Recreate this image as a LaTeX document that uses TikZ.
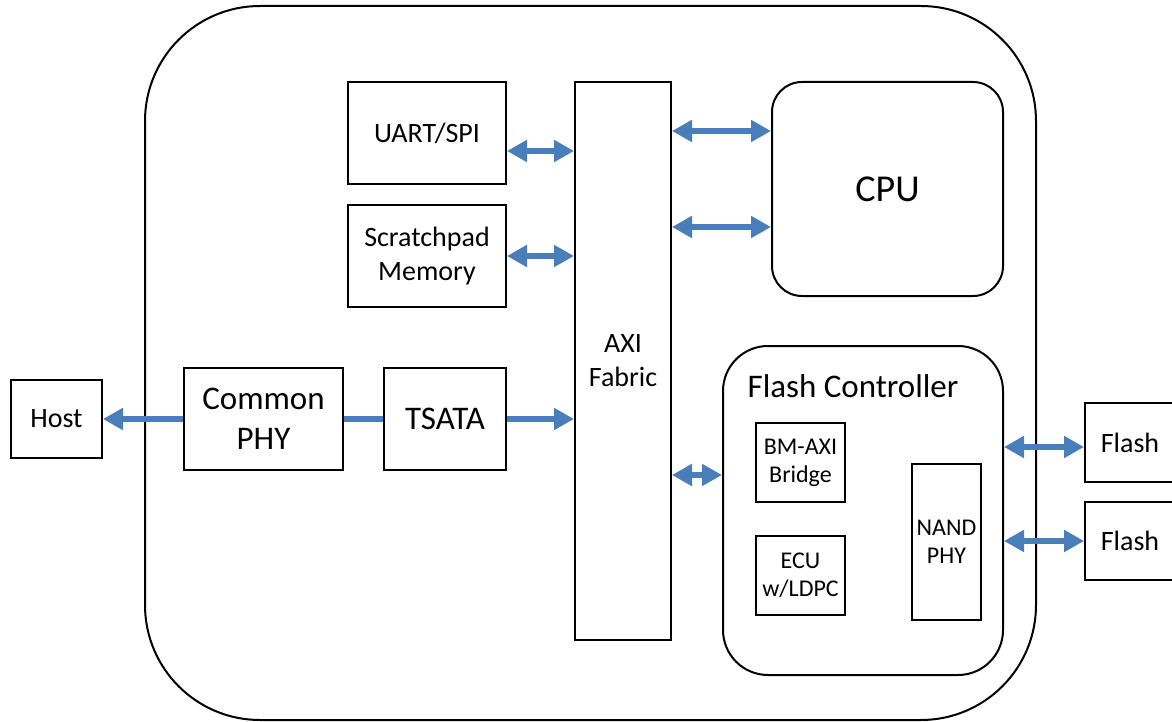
\documentclass[tikz,border=0pt]{standalone}
\usepackage{fontspec}
\setmainfont{Carlito}
\usetikzlibrary{arrows.meta}

\definecolor{busblue}{RGB}{74,126,187}

\begin{document}
\begin{tikzpicture}[x=1pt, y=-1pt, line width=2pt,
  blk/.style={draw, inner sep=0pt, align=center},
  bus/.style={draw=busblue, line width=6.5pt, >={Triangle[length=20pt,width=21pt]}, <->},
  txt/.style={font=\fontsize{28}{34}\selectfont},
  bigtxt/.style={font=\fontsize{33}{40}\selectfont},
  smalltxt/.style={font=\fontsize{24}{28}\selectfont}]

\useasboundingbox (0,0) rectangle (1172,722);

%\draw[red] (0,0) rectangle (1172,722);

% the chip
\draw[rounded corners=115pt] (145,6) rectangle (1036,720);

\node[blk, txt, minimum width=91pt, minimum height=78pt] (host) at (56.5,419) {Host};
\node[blk, bigtxt, minimum width=159pt, minimum height=102pt] (cphy) at (263.5,419) {Common\\PHY};
\node[blk, bigtxt, minimum width=122pt, minimum height=102pt] (tsata) at (445,419) {TSATA};

\node[blk, txt, minimum width=158pt, minimum height=102pt] (uart) at (427,133) {UART/SPI};
\node[blk, txt, minimum width=158pt, minimum height=102pt] (spad) at (427,256) {Scratchpad\\Memory};

\node[blk, txt, minimum width=96pt, minimum height=558pt] (axi) at (623,361) {AXI\\Fabric};

\node[blk, font=\fontsize{38}{44}\selectfont, rounded corners=30pt,
      minimum width=231pt, minimum height=214pt] (cpu) at (887.5,189) {CPU};

% flash controller and its parts
\node[blk, rounded corners=45pt, minimum width=280pt, minimum height=329pt] (fc) at (863,510.5) {};
\node[bigtxt] (fctitle) at (853,386) {Flash Controller};
\node[blk, smalltxt, minimum width=89pt, minimum height=79pt] (bridge) at (800.5,462.5) {BM-AXI\\Bridge};
\node[blk, smalltxt, minimum width=89pt, minimum height=79pt] (ecu) at (800.5,575.5) {ECU\\w/LDPC};
\node[blk, smalltxt, minimum width=69pt, minimum height=156pt] (nand) at (946.5,542) {NAND\\PHY};

\node[blk, txt, minimum width=90pt, minimum height=79pt] (flasha) at (1130,442.5) {Flash};
\node[blk, txt, minimum width=90pt, minimum height=78pt] (flashb) at (1130,541) {Flash};

% buses
\draw[bus, ->] (cphy.west) -- (host.east);
\draw[bus, -] (cphy.east) -- (tsata.west);
\draw[bus, ->] (tsata.east) -- (tsata.east -| axi.west);

\foreach \blk/\dy in {uart/-18, spad/0}{% left side of the fabric
    \draw[bus] ([yshift=\dy pt]\blk.east) -- ([yshift=\dy pt]\blk.east -| axi.west);}

\foreach \dy in {58, -38}{% two ports to the cpu
    \draw[bus] ([yshift=\dy pt]cpu.west -| axi.east) -- ([yshift=\dy pt]cpu.west);}

\draw[bus] ([yshift=35.5pt]fc.west -| axi.east) -- ([yshift=35.5pt]fc.west);

\foreach \fl/\dy in {flasha/-4.5, flashb/0}{% flash channels
    \draw[bus] ([yshift=\dy pt]\fl.west -| fc.east) -- ([yshift=\dy pt]\fl.west);}

\end{tikzpicture}
\end{document}
